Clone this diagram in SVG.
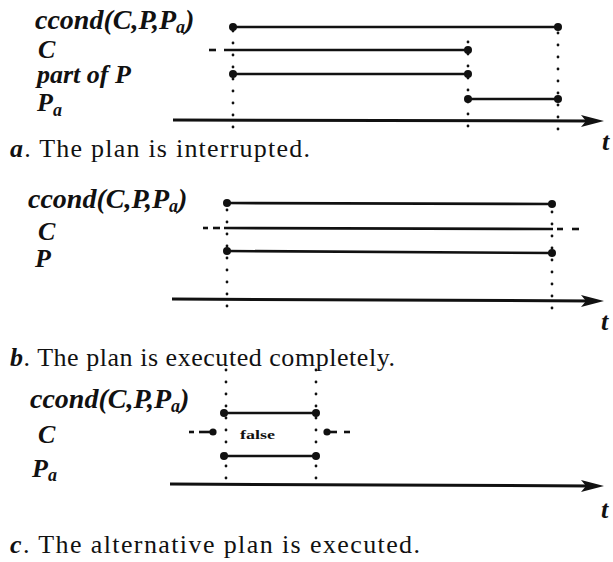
<svg xmlns="http://www.w3.org/2000/svg" width="613" height="562" viewBox="0 0 613 562">
<defs>
<style>
.lbl{font-family:"Liberation Serif","Times New Roman",serif;font-weight:bold;font-style:italic;font-size:26px;fill:#111}
.cc{font-size:28px}
.sub{font-size:18px}
.cap{font-family:"Liberation Serif","Times New Roman",serif;font-size:26px;fill:#111}
.capv{font-weight:bold;font-style:italic}
.false{font-family:"Liberation Serif","Times New Roman",serif;font-weight:bold;font-size:13px;fill:#111}
.bar{stroke:#111;stroke-width:2.6;fill:none}
.axis{stroke:#111;stroke-width:3;fill:none}
.dot{stroke:#111;stroke-width:2.8;stroke-linecap:round;stroke-dasharray:0 12;fill:none}
.end{fill:#111}
.head{fill:#111}
</style>
</defs>

<!-- Panel a -->
<g id="panel-a">
  <g id="a-labels">
    <text class="lbl cc" x="35" y="29">ccond(C,P,P<tspan class="sub" dy="4">a</tspan><tspan dy="-4">)</tspan></text>
    <text class="lbl" x="38" y="58">C</text>
    <text class="lbl" x="37" y="83">part of P</text>
    <text class="lbl" x="37" y="111">P<tspan class="sub" dy="5">a</tspan></text>
    <text class="lbl" x="602" y="150">t</text>
  </g>
  <g id="a-ccond">
    <line class="bar" x1="233" y1="27" x2="558" y2="27"/>
    <circle class="end" cx="233" cy="27" r="4"/><circle class="end" cx="558" cy="27" r="4"/>
  </g>
  <g id="a-C">
    <line class="bar" x1="209" y1="50" x2="216" y2="50"/>
    <line class="bar" x1="224" y1="50" x2="468" y2="50"/>
    <circle class="end" cx="468" cy="50" r="4"/>
  </g>
  <g id="a-partP">
    <line class="bar" x1="233" y1="74" x2="468" y2="74"/>
    <circle class="end" cx="233" cy="74" r="4"/><circle class="end" cx="468" cy="74" r="4"/>
  </g>
  <g id="a-Pa">
    <line class="bar" x1="468" y1="99" x2="558" y2="99"/>
    <circle class="end" cx="468" cy="99" r="4"/><circle class="end" cx="558" cy="99" r="4"/>
  </g>
  <text class="cap" x="10" y="157" textLength="300" lengthAdjust="spacing"><tspan class="capv">a</tspan>. The plan is interrupted.</text>
</g>

<!-- Panel b -->
<g id="panel-b">
  <g id="b-labels">
    <text class="lbl cc" x="28" y="208">ccond(C,P,P<tspan class="sub" dy="4">a</tspan><tspan dy="-4">)</tspan></text>
    <text class="lbl" x="38" y="240">C</text>
    <text class="lbl" x="35" y="267">P</text>
    <text class="lbl" x="601" y="330">t</text>
  </g>
  <g id="b-ccond">
    <line class="bar" x1="227" y1="203" x2="552" y2="204"/>
    <circle class="end" cx="227" cy="203" r="4"/><circle class="end" cx="552" cy="204" r="4"/>
  </g>
  <g id="b-C">
    <line class="bar" x1="203" y1="228" x2="208" y2="228"/>
    <line class="bar" x1="213" y1="228" x2="220" y2="228"/>
    <line class="bar" x1="224" y1="228" x2="553" y2="229"/>
    <line class="bar" x1="557" y1="229" x2="563" y2="229"/>
    <line class="bar" x1="572" y1="229" x2="579" y2="229"/>
  </g>
  <g id="b-P">
    <line class="bar" x1="227" y1="251" x2="552" y2="253"/>
    <circle class="end" cx="227" cy="251" r="4"/><circle class="end" cx="552" cy="253" r="4"/>
  </g>
  <text class="cap" x="10" y="366" textLength="385" lengthAdjust="spacing"><tspan class="capv">b</tspan>. The plan is executed completely.</text>
</g>

<!-- Panel c -->
<g id="panel-c">
  <g id="c-labels">
    <text class="lbl cc" x="30" y="408">ccond(C,P,P<tspan class="sub" dy="4">a</tspan><tspan dy="-4">)</tspan></text>
    <text class="lbl" x="38" y="443">C</text>
    <text class="lbl" x="32" y="477">P<tspan class="sub" dy="4">a</tspan></text>
    <text class="lbl" x="601" y="518">t</text>
  </g>
  <g id="c-ccond">
    <line class="bar" x1="224" y1="413" x2="316" y2="413"/>
    <circle class="end" cx="224" cy="413" r="4"/><circle class="end" cx="316" cy="413" r="4"/>
  </g>
  <g id="c-C">
    <line class="bar" x1="189" y1="432" x2="194" y2="432"/>
    <line class="bar" x1="199" y1="432" x2="213" y2="432"/>
    <circle class="end" cx="213" cy="432" r="3.6"/>
    <text class="false" x="240" y="439" textLength="35" lengthAdjust="spacingAndGlyphs">false</text>
    <circle class="end" cx="327" cy="432" r="3.6"/>
    <line class="bar" x1="327" y1="432" x2="337" y2="432"/>
    <line class="bar" x1="344" y1="432" x2="350" y2="432"/>
  </g>
  <g id="c-Pa">
    <line class="bar" x1="224" y1="456" x2="316" y2="456"/>
    <circle class="end" cx="224" cy="456" r="4"/><circle class="end" cx="316" cy="456" r="4"/>
  </g>
  <text class="cap" x="10" y="553" textLength="410" lengthAdjust="spacing"><tspan class="capv">c</tspan>. The alternative plan is executed.</text>
</g>

<!-- connectors: time axes and dotted time markers -->
<g id="connectors">
  <line class="axis" x1="173" y1="120" x2="592" y2="121"/>
  <path class="head" d="M604,121 L581,115 L586,121 L581,127 Z"/>
  <line class="axis" x1="172" y1="299" x2="592" y2="301"/>
  <path class="head" d="M604,301 L581,295 L586,301 L581,307 Z"/>
  <line class="axis" x1="170" y1="484" x2="592" y2="486"/>
  <path class="head" d="M604,486 L581,480 L586,486 L581,492 Z"/>

  <line class="dot" x1="233" y1="31" x2="233" y2="130"/>
  <line class="dot" x1="468" y1="42" x2="468" y2="130"/>
  <line class="dot" x1="558" y1="33" x2="558" y2="132"/>

  <line class="dot" x1="227" y1="210" x2="227" y2="310"/>
  <line class="dot" x1="552" y1="212" x2="552" y2="313"/>

  <line class="dot" x1="226" y1="370" x2="226" y2="490"/>
  <line class="dot" x1="316" y1="370" x2="316" y2="490"/>
</g>
</svg>
